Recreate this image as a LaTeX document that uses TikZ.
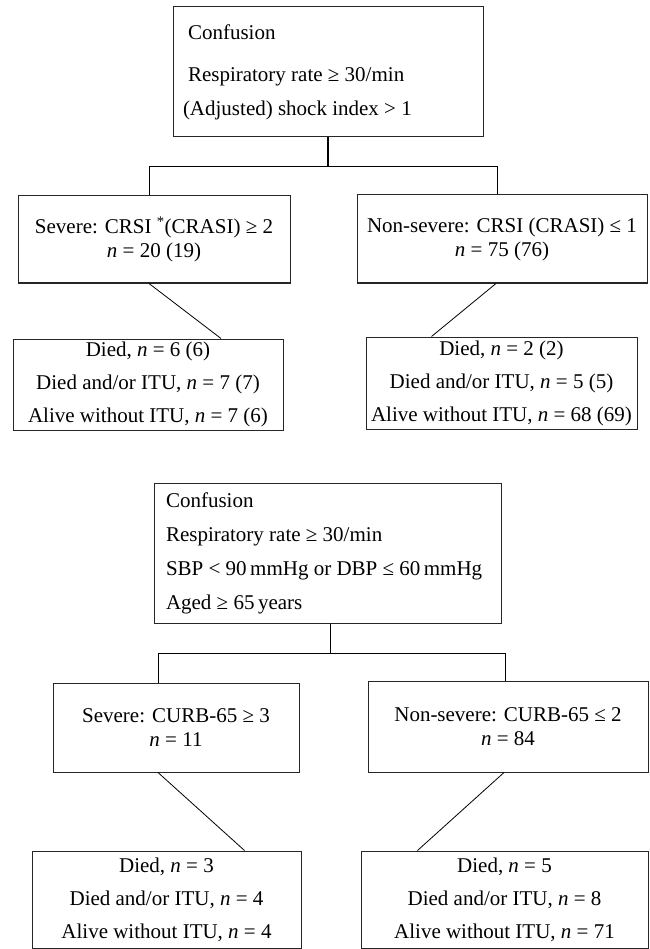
\documentclass[tikz,border=0pt]{standalone}
\usepackage{fontspec}
\setmainfont{Liberation Serif}

\newcommand{\nvar}{\textit{n}}

\tikzset{
  box/.style={draw=black!85, line width=1pt, inner sep=0pt},
  condbox/.style={box, align=flush left, font=\fontsize{21}{34}\selectfont},
  grpbox/.style={box, align=center, font=\fontsize{21}{24}\selectfont},
  outbox/.style={box, align=center, font=\fontsize{21}{33}\selectfont},
  link/.style={line width=0.8pt},
  stem/.style={line width=1.4pt}
}

\begin{document}
\begin{tikzpicture}[x=1pt, y=-1pt]
  \useasboundingbox (0,0) rectangle (649,949);

  % CRSI / CRASI
  \node[condbox, inner xsep=15pt, text width=280pt, minimum height=130pt] (conf1) at (328,72)
    {Confusion\\[8pt]Respiratory rate ≥ 30/min\\\hspace*{-5pt}(Adjusted) shock index > 1};
  \node[grpbox, minimum width=272pt, minimum height=87pt] (sev1) at (154,239.5)
    {Severe: CRSI \textsuperscript{*}(CRASI) ≥ 2\\\nvar{} = 20 (19)};
  \node[grpbox, minimum width=290pt, minimum height=88pt] (non1) at (502,239)
    {Non-severe: CRSI (CRASI) ≤ 1\\\nvar{} = 75 (76)};
  \node[outbox, minimum width=270pt, minimum height=91pt] (out1l) at (148,384.5)
    {Died, \nvar{} = 6 (6)\\Died and/or ITU, \nvar{} = 7 (7)\\Alive without ITU, \nvar{} = 7 (6)};
  \node[outbox, minimum width=271pt, minimum height=92pt] (out1r) at (501.5,383)
    {Died, \nvar{} = 2 (2)\\Died and/or ITU, \nvar{} = 5 (5)\\Alive without ITU, \nvar{} = 68 (69)};

  \draw[stem] (conf1.south) -- ++(0,29) coordinate (j1);
  \draw[link] ([xshift=-5pt]sev1.north) |- (j1) -| ([xshift=-5pt]non1.north);
  \draw[link] ([xshift=-5pt]sev1.south) -- ([xshift=73pt]out1l.north);
  \draw[link] ([xshift=-6pt]non1.south) -- ([xshift=-70pt]out1r.north);

  % CURB-65
  \node[condbox, inner xsep=12pt, text width=323pt, minimum height=140pt] (conf2) at (327.5,553)
    {Confusion\\Respiratory rate ≥ 30/min\\\mbox{SBP < 90\,mmHg or DBP ≤ 60\,mmHg}\\Aged ≥ 65\,years};
  \node[grpbox, minimum width=246pt, minimum height=89pt] (sev2) at (176,727.5)
    {Severe: CURB-65 ≥ 3\\\nvar{} = 11};
  \node[grpbox, minimum width=280pt, minimum height=91pt] (non2) at (508,726.5)
    {Non-severe: CURB-65 ≤ 2\\\nvar{} = 84};
  \node[outbox, minimum width=269pt, minimum height=97pt] (out2l) at (166.5,899.5)
    {Died, \nvar{} = 3\\Died and/or ITU, \nvar{} = 4\\Alive without ITU, \nvar{} = 4};
  \node[outbox, minimum width=287pt, minimum height=97pt] (out2r) at (504.5,899.5)
    {Died, \nvar{} = 5\\Died and/or ITU, \nvar{} = 8\\Alive without ITU, \nvar{} = 71};

  \draw[stem] ([xshift=3pt]conf2.south) -- ++(0,30) coordinate (j2);
  \draw[link] ([xshift=-18pt]sev2.north) |- (j2) -| ([xshift=-3pt]non2.north);
  \draw[link] ([xshift=-18pt]sev2.south) -- ([xshift=78pt]out2l.north);
  \draw[link] ([xshift=-4pt]non2.south) -- ([xshift=-87pt]out2r.north);
\end{tikzpicture}
\end{document}
